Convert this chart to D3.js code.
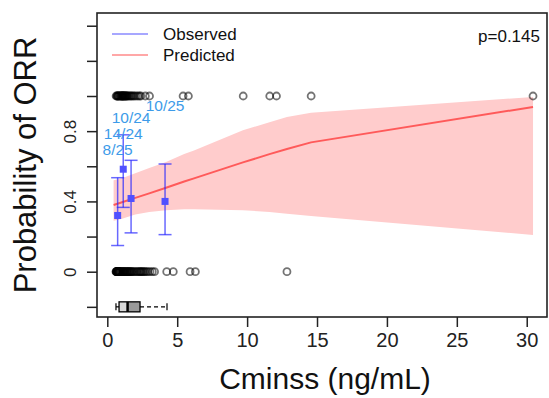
<!DOCTYPE html>
<html>
<head>
<meta charset="utf-8">
<script src="https://cdn.jsdelivr.net/npm/d3@7"></script>
<style>
  html, body { margin: 0; padding: 0; background: #fff; }
  svg { display: block; font-family: "Liberation Sans", Arial, Helvetica, sans-serif; }
</style>
</head>
<body>
<svg id="chart" width="549" height="398"></svg>
<script>
// Individual exposures (Cminss, ng/mL) split by response
const responders = [
  0.63, 0.68, 0.72, 0.75, 0.79, 0.83, 0.88, 0.93,
  0.97, 1.00, 1.03, 1.06, 1.09, 1.12, 1.14, 1.17, 1.21, 1.25, 1.28, 1.32, 1.36, 1.40,
  1.45, 1.52, 1.60, 1.68, 1.75, 1.84, 1.93, 2.05, 2.18, 2.30,
  2.40, 2.72, 3.02, 5.42, 5.80, 9.72, 11.62, 12.10, 14.58, 30.45
];
const nonResponders = [
  0.62, 0.64, 0.66, 0.67, 0.69, 0.70, 0.71, 0.73, 0.74, 0.76, 0.78, 0.80, 0.82, 0.85, 0.87, 0.90, 0.94,
  0.98, 1.02, 1.08, 1.13, 1.16, 1.20, 1.24, 1.30, 1.35, 1.41,
  1.44, 1.48, 1.55, 1.58, 1.63, 1.70, 1.74, 1.80, 1.88, 1.97, 2.08, 2.15, 2.25, 2.33,
  2.38, 2.45, 2.52, 2.60, 2.68, 2.78, 2.90, 3.05, 3.22, 3.38, 4.25, 4.72, 5.92, 6.30, 12.85
];

// Observed response rate per exposure quartile
const binX      = [0.74, 1.14, 1.70, 4.13];
const binEvents = [8, 14, 10, 10];
const binTotal  = [25, 24, 24, 25];
const binLower  = [0.149, 0.366, 0.221, 0.211];
const binUpper  = [0.535, 0.779, 0.634, 0.613];
const binLabelY = [0.70, 0.79, 0.88, 0.948];

// Logistic model prediction with 95% band
const predX     = [0.45, 1.0, 2.0, 3.0, 4.2, 5.5, 6.2, 9.7, 11.6, 12.85, 14.57, 30.45];
const predP     = [0.380, 0.394, 0.420, 0.446, 0.478, 0.513, 0.531, 0.622, 0.669, 0.698, 0.736, 0.938];
const predLower = [0.290, 0.300, 0.325, 0.340, 0.350, 0.355, 0.355, 0.350, 0.340, 0.330, 0.317, 0.209];
const predUpper = [0.520, 0.530, 0.560, 0.590, 0.625, 0.670, 0.690, 0.805, 0.850, 0.880, 0.905, 0.995];

// Exposure distribution summary: whisker low, Q1, median, Q3, whisker high
const boxStats = [0.62, 0.84, 1.45, 2.34, 4.27];

const xTicks = [0, 5, 10, 15, 20, 25, 30];
const yTicks = [-0.2, 0, 0.2, 0.4, 0.6, 0.8, 1.0, 1.2, 1.4];
const yTickLabels = [0, 0.4, 0.8];
const pValueText = "p=0.145";

const svg = d3.select("#chart");
const L = 97, R = 547, T = 13, B = 317;

const x = d3.scaleLinear().domain([-0.737, 31.45]).range([L, R]);
const y = d3.scaleLinear().domain([-0.2578, 1.4724]).range([B, T]);

// Prediction band and curve
const pred = predX.map((d, i) => ({ x: d, p: predP[i], lo: predLower[i], hi: predUpper[i] }));
svg.append("path")
  .datum(pred)
  .attr("fill", "#ffcccc")
  .attr("d", d3.area().x(d => x(d.x)).y0(d => y(d.lo)).y1(d => y(d.hi)));
svg.append("path")
  .datum(pred)
  .attr("fill", "none")
  .attr("stroke", "#ff5a5a")
  .attr("stroke-width", 2)
  .attr("d", d3.line().x(d => x(d.x)).y(d => y(d.p)));

// Individual observations
const obs = responders.map(v => ({ x: v, y: 1 })).concat(nonResponders.map(v => ({ x: v, y: 0 })));
svg.append("g").selectAll("circle")
  .data(obs)
  .join("circle")
  .attr("cx", d => x(d.x))
  .attr("cy", d => y(d.y))
  .attr("r", 3.5)
  .attr("fill", "none")
  .attr("stroke", "rgba(0,0,0,0.55)")
  .attr("stroke-width", 1.8);

// Quartile error bars
const bins = binX.map((d, i) => ({ x: d, p: binEvents[i] / binTotal[i], lo: binLower[i], hi: binUpper[i],
  label: binEvents[i] + "/" + binTotal[i], ly: binLabelY[i] }));
const eb = svg.append("g").attr("stroke", "rgba(40,40,255,0.7)").attr("stroke-width", 1.5);
const cap = 6.5;
bins.forEach(b => {
  eb.append("line").attr("x1", x(b.x)).attr("x2", x(b.x)).attr("y1", y(b.lo)).attr("y2", y(b.hi));
  eb.append("line").attr("x1", x(b.x) - cap).attr("x2", x(b.x) + cap).attr("y1", y(b.lo)).attr("y2", y(b.lo));
  eb.append("line").attr("x1", x(b.x) - cap).attr("x2", x(b.x) + cap).attr("y1", y(b.hi)).attr("y2", y(b.hi));
});
svg.append("g").selectAll("rect")
  .data(bins)
  .join("rect")
  .attr("x", d => x(d.x) - 3.5)
  .attr("y", d => y(d.p) - 3.5)
  .attr("width", 7)
  .attr("height", 7)
  .attr("fill", "#5050ff");
svg.append("g").selectAll("text")
  .data(bins)
  .join("text")
  .attr("x", d => x(d.x))
  .attr("y", d => y(d.ly) + 6)
  .attr("text-anchor", "middle")
  .attr("font-size", 15.5)
  .attr("fill", "#3d9be9")
  .text(d => d.label);

// Exposure box plot along the bottom
const by = y(-0.2);
const bh = 10;
const bx = svg.append("g");
bx.append("line").attr("x1", x(boxStats[0])).attr("x2", x(boxStats[1])).attr("y1", by).attr("y2", by)
  .attr("stroke", "#000").attr("stroke-width", 1.2);
bx.append("line").attr("x1", x(boxStats[3])).attr("x2", x(boxStats[4])).attr("y1", by).attr("y2", by)
  .attr("stroke", "#000").attr("stroke-width", 1.2).attr("stroke-dasharray", "4,3");
[boxStats[0], boxStats[4]].forEach(v => {
  bx.append("line").attr("x1", x(v)).attr("x2", x(v)).attr("y1", by - 3.5).attr("y2", by + 3.5)
    .attr("stroke", "#000").attr("stroke-width", 1.2);
});
bx.append("rect").attr("x", x(boxStats[1])).attr("y", by - bh / 2)
  .attr("width", x(boxStats[2]) - x(boxStats[1])).attr("height", bh).attr("fill", "#d8d8d8");
bx.append("rect").attr("x", x(boxStats[2])).attr("y", by - bh / 2)
  .attr("width", x(boxStats[3]) - x(boxStats[2])).attr("height", bh).attr("fill", "#9a9a9a");
bx.append("rect").attr("x", x(boxStats[1])).attr("y", by - bh / 2)
  .attr("width", x(boxStats[3]) - x(boxStats[1])).attr("height", bh)
  .attr("fill", "none").attr("stroke", "#000").attr("stroke-width", 1.3);
bx.append("line").attr("x1", x(boxStats[2])).attr("x2", x(boxStats[2])).attr("y1", by - bh / 2).attr("y2", by + bh / 2)
  .attr("stroke", "#000").attr("stroke-width", 2.5);

// Axes
const xAxis = svg.append("g").attr("transform", `translate(0,${B})`)
  .call(d3.axisBottom(x).tickValues(xTicks).tickSize(10).tickPadding(6).tickFormat(d3.format("d")));
xAxis.select(".domain").remove();
xAxis.selectAll("line").attr("stroke", "#222").attr("stroke-width", 1.5);
xAxis.selectAll("text").attr("font-size", 20).attr("fill", "#222").attr("font-family", null);

const yAxis = svg.append("g").attr("transform", `translate(${L},0)`)
  .call(d3.axisLeft(y).tickValues(yTicks).tickSize(10)
    .tickFormat(d => yTickLabels.some(v => Math.abs(v - d) < 1e-9) ? d3.format("")(+d.toFixed(1)) : ""));
yAxis.select(".domain").remove();
yAxis.selectAll("line").attr("stroke", "#222").attr("stroke-width", 1.5);
yAxis.selectAll("text")
  .attr("font-size", 17).attr("fill", "#222").attr("font-family", null)
  .attr("x", null).attr("dy", null)
  .attr("text-anchor", "middle")
  .attr("transform", "translate(-21,0) rotate(-90)");

// Plot frame
svg.append("rect").attr("x", L).attr("y", T).attr("width", R - L).attr("height", B - T)
  .attr("fill", "none").attr("stroke", "#222").attr("stroke-width", 1.6);

// Axis titles
svg.append("text").attr("x", (L + R) / 2 + 3).attr("y", 389).attr("text-anchor", "middle")
  .attr("font-size", 30).attr("fill", "#111").text("Cminss (ng/mL)");
svg.append("text").attr("transform", `translate(36,${(T + B) / 2}) rotate(-90)`)
  .attr("text-anchor", "middle").attr("font-size", 31).attr("fill", "#111").text("Probability of ORR");

// Legend
const legend = [
  { label: "Observed", color: "#8a8aff", yy: 34 },
  { label: "Predicted", color: "#ff8a8a", yy: 55 }
];
const lg = svg.append("g");
legend.forEach(d => {
  lg.append("line").attr("x1", 112).attr("x2", 148).attr("y1", d.yy).attr("y2", d.yy)
    .attr("stroke", d.color).attr("stroke-width", 1.5);
  lg.append("text").attr("x", 163).attr("y", d.yy + 6).attr("font-size", 17).attr("fill", "#111").text(d.label);
});

// Model p-value
svg.append("text").attr("x", 540).attr("y", 42).attr("text-anchor", "end")
  .attr("font-size", 17).attr("fill", "#111").text(pValueText);
</script>
</body>
</html>
